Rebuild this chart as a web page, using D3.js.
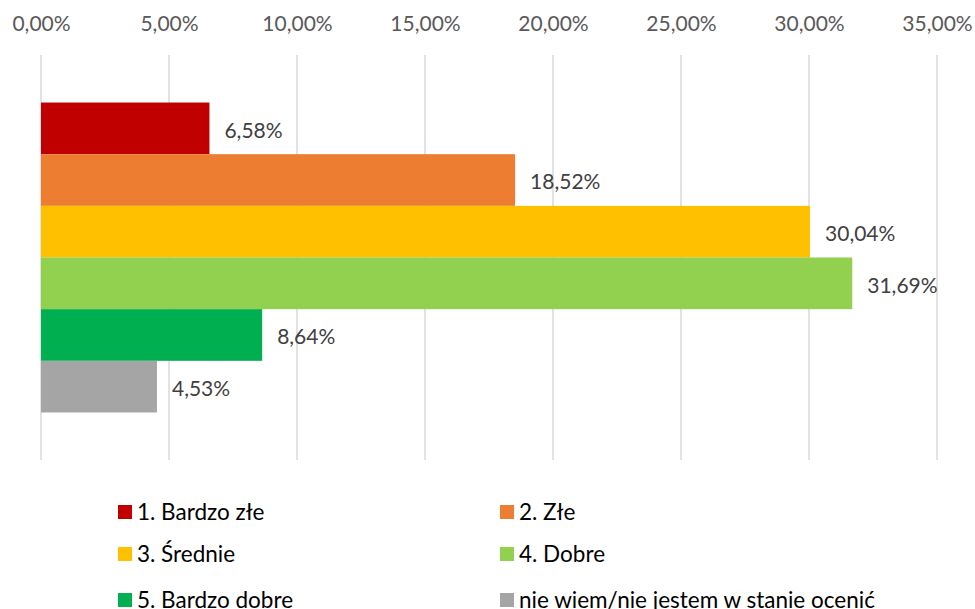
<!DOCTYPE html>
<html><head><meta charset="utf-8">
<script src="https://cdn.jsdelivr.net/npm/d3@7"></script>
<style>body{margin:0;background:#fff}svg{display:block}</style>
</head><body>
<script>
const categories = ["1. Bardzo złe","2. Złe","3. Średnie","4. Dobre","5. Bardzo dobre","nie wiem/nie jestem w stanie ocenić"];
const values = [6.58,18.52,30.04,31.69,8.64,4.53];
const colors = ["#C00000","#ED7D31","#FFC000","#92D050","#00B050","#A5A5A5"];
const tickValues = [0,5,10,15,20,25,30,35];

const W=975,H=609;
const font="Lato, 'Open Sans', sans-serif";
const svg=d3.select("body").append("svg").attr("width",W).attr("height",H);
const x=d3.scaleLinear().domain([0,35]).range([41,937]);
const y=d3.scaleBand().domain(categories).range([55,460]).paddingInner(0).paddingOuter(0.92);
const fmt=v=>d3.format(".2f")(v).replace(".",",")+"%";

const ax=svg.append("g").attr("transform","translate(0,55)")
  .call(d3.axisTop(x).tickValues(tickValues).tickSize(0).tickPadding(24).tickFormat(fmt));
ax.select(".domain").remove();
ax.selectAll("text").attr("font-family",font).attr("font-size",21).attr("fill","#595959");

svg.append("g").selectAll("line").data(tickValues).join("line")
  .attr("x1",d=>x(d)).attr("x2",d=>x(d)).attr("y1",55).attr("y2",460)
  .attr("stroke","#d9d9d9").attr("stroke-width",1.5);

svg.append("g").selectAll("rect").data(values).join("rect")
  .attr("x",x(0)).attr("y",(d,i)=>y(categories[i]))
  .attr("width",d=>x(d)-x(0)).attr("height",y.bandwidth())
  .attr("fill",(d,i)=>colors[i]);

svg.append("g").selectAll("text").data(values).join("text")
  .attr("x",d=>x(d)+15).attr("y",(d,i)=>y(categories[i])+y.bandwidth()/2+2)
  .attr("dy","0.35em").attr("font-family",font).attr("font-size",21).attr("fill","#404040")
  .text(fmt);

const legX=[118,500], legY=[512,554,600];
const lg=svg.append("g").selectAll("g").data(categories).join("g")
  .attr("transform",(d,i)=>`translate(${legX[i%2]},${legY[Math.floor(i/2)]})`);
lg.append("rect").attr("x",0).attr("y",-7).attr("width",14).attr("height",14).attr("fill",(d,i)=>colors[i]);
lg.append("text").attr("x",19).attr("dy","0.35em").attr("font-family",font).attr("font-size",22.5).attr("fill","#000").text(d=>d);
</script>
</body></html>
